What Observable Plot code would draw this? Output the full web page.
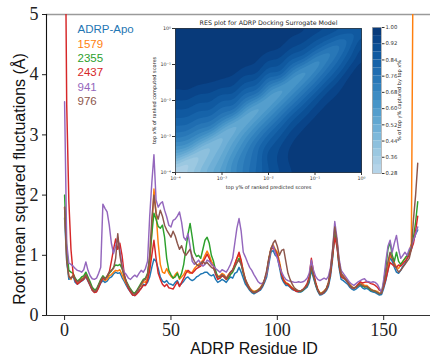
<!DOCTYPE html>
<html><head><meta charset="utf-8">
<script src="https://cdn.jsdelivr.net/npm/d3@7"></script>
<script src="https://cdn.jsdelivr.net/npm/@observablehq/plot@0.6"></script>
<style>
body{margin:0;background:#fff}
#wrap{position:relative;width:433px;height:356px;overflow:hidden}
#wrap svg{position:absolute;left:0;top:0}
svg.mainplot g[aria-label$="tick label"], svg.mainplot g[aria-label$="tick label"] text{font-family:"Liberation Serif","Times New Roman",serif !important}
</style></head><body><div id="wrap"></div>
<script>
// ---------------- data ----------------
const seriesNames = ["ADRP-Apo", "1579", "2355", "2437", "941", "976"];
const seriesColors = ["#1f77b4", "#ff7f0e", "#2ca02c", "#d62728", "#9467bd", "#8c564b"];
const residueStart = 0;

const apo = [1.62,0.9,0.6,0.62,0.65,0.55,0.52,0.55,0.57,0.6,
0.64,0.57,0.5,0.42,0.39,0.4,0.47,0.54,0.58,0.55,
0.57,0.62,0.64,0.69,0.72,0.7,0.71,0.63,0.57,0.5,
0.44,0.39,0.34,0.33,0.37,0.42,0.45,0.52,0.5,0.55,
0.64,0.8,0.94,0.9,0.78,0.64,0.57,0.55,0.58,0.53,
0.52,0.5,0.55,0.58,0.5,0.53,0.57,0.62,0.64,0.6,
0.58,0.6,0.64,0.66,0.69,0.7,0.72,0.72,0.68,0.66,
0.68,0.6,0.55,0.57,0.6,0.58,0.55,0.6,0.64,0.62,
0.7,0.72,0.8,0.72,0.62,0.52,0.47,0.42,0.38,0.36,
0.38,0.4,0.42,0.47,0.55,0.64,0.85,1.05,1.08,1.0,
0.97,0.8,0.62,0.55,0.5,0.5,0.47,0.43,0.42,0.4,
0.39,0.39,0.41,0.44,0.47,0.55,0.75,0.62,0.5,0.4,
0.34,0.35,0.37,0.41,0.48,0.65,0.95,1.36,1.2,0.8,
0.6,0.58,0.55,0.52,0.47,0.44,0.42,0.44,0.47,0.5,
0.46,0.44,0.45,0.43,0.4,0.39,0.38,0.36,0.34,0.35,
0.45,0.58,0.75,0.97,0.9,0.8,0.72,0.7,0.75,0.82,
0.86,0.95,1.05,1.1,1.25,1.35,1.42];

const s1579 = [1.8,1.0,0.65,0.6,0.68,0.6,0.55,0.58,0.62,0.63,
0.7,0.62,0.53,0.45,0.41,0.42,0.5,0.57,0.62,0.58,
0.6,0.66,0.68,0.72,0.75,0.74,0.76,0.68,0.6,0.53,
0.47,0.42,0.37,0.36,0.4,0.46,0.5,0.56,0.55,0.62,
0.8,1.4,2.1,1.7,1.2,0.85,0.72,0.7,0.78,0.7,
0.65,0.62,0.68,0.72,0.6,0.64,0.68,0.75,0.72,0.7,
0.72,0.78,0.82,0.85,0.88,0.92,1.0,1.07,1.0,0.9,
0.85,0.72,0.65,0.66,0.7,0.68,0.62,0.68,0.72,0.75,
0.85,0.95,1.02,0.9,0.75,0.6,0.52,0.46,0.42,0.4,
0.41,0.43,0.46,0.52,0.6,0.72,0.95,1.12,1.18,1.1,
1.05,0.9,0.72,0.6,0.55,0.53,0.5,0.46,0.44,0.42,
0.41,0.41,0.43,0.47,0.52,0.62,0.82,0.68,0.55,0.44,
0.38,0.38,0.41,0.45,0.55,0.75,1.05,1.4,1.25,0.9,
0.7,0.66,0.62,0.58,0.52,0.48,0.46,0.48,0.52,0.55,
0.52,0.5,0.5,0.47,0.44,0.42,0.41,0.4,0.37,0.38,
0.5,0.65,0.82,1.0,0.95,0.88,0.8,0.78,0.85,0.9,
0.95,1.0,1.05,1.2,7,7,7];

const s2355 = [2.0,1.1,0.75,0.72,0.7,0.62,0.57,0.6,0.64,0.66,
0.72,0.64,0.56,0.47,0.43,0.44,0.52,0.6,0.66,0.62,
0.64,0.7,0.74,0.8,0.84,0.83,0.85,0.78,0.66,0.57,
0.5,0.44,0.39,0.37,0.42,0.48,0.54,0.6,0.62,0.7,
0.95,1.35,1.7,1.6,1.48,1.45,1.5,1.3,0.95,0.75,
0.68,0.62,0.64,0.7,0.62,0.7,0.85,1.1,1.35,1.53,
1.3,1.05,0.98,1.0,0.95,1.1,1.25,1.3,1.2,1.0,
0.9,0.75,0.62,0.62,0.66,0.64,0.6,0.62,0.68,0.72,
0.8,0.88,0.95,0.85,0.7,0.58,0.5,0.44,0.4,0.38,
0.4,0.42,0.45,0.5,0.58,0.7,0.92,1.1,1.15,1.08,
1.0,0.85,0.68,0.58,0.53,0.52,0.48,0.45,0.43,0.41,
0.4,0.4,0.42,0.46,0.5,0.6,0.8,0.66,0.52,0.42,
0.36,0.37,0.39,0.44,0.52,0.72,1.0,1.35,1.2,0.85,
0.65,0.62,0.6,0.56,0.5,0.47,0.45,0.47,0.5,0.52,
0.49,0.47,0.48,0.45,0.42,0.41,0.4,0.38,0.36,0.38,
0.55,0.8,1.1,1.22,1.0,0.9,1.05,0.9,0.85,0.9,
0.95,1.0,1.05,1.15,1.3,1.55,1.89];

const s2437 = [8,3.5,1.9,1.1,0.7,0.58,0.52,0.55,0.58,0.6,
0.66,0.58,0.5,0.42,0.38,0.39,0.46,0.55,0.62,0.6,
0.65,0.72,0.9,1.1,1.27,1.1,1.2,1.0,0.7,0.55,
0.45,0.39,0.34,0.33,0.36,0.4,0.45,0.5,0.5,0.58,
0.75,1.0,1.25,0.95,0.7,0.6,0.52,0.48,0.52,0.46,
0.45,0.44,0.5,0.56,0.48,0.55,0.62,0.7,0.75,0.72,
0.7,0.74,0.78,0.8,0.82,0.88,0.95,1.02,0.95,0.85,
0.82,0.68,0.6,0.62,0.66,0.64,0.6,0.66,0.72,0.75,
0.85,0.95,1.05,0.92,0.72,0.58,0.5,0.44,0.4,0.38,
0.39,0.41,0.44,0.5,0.58,0.7,0.92,1.1,1.12,1.08,
1.0,0.85,0.68,0.58,0.53,0.52,0.48,0.45,0.42,0.4,
0.4,0.41,0.43,0.47,0.53,0.65,0.95,0.72,0.55,0.43,
0.36,0.36,0.39,0.43,0.52,0.7,1.0,1.3,1.15,0.85,
0.65,0.62,0.6,0.55,0.5,0.46,0.45,0.47,0.52,0.56,
0.54,0.55,0.56,0.55,0.53,0.52,0.5,0.47,0.42,0.4,
0.48,0.6,0.75,0.88,0.85,0.82,0.8,0.84,0.82,0.86,
0.9,0.95,1.0,1.1,1.2,1.4,1.65];

const s941 = [3.55,1.2,0.87,0.85,0.82,0.78,0.75,0.74,0.72,0.76,
0.89,0.75,0.66,0.61,0.6,0.62,0.7,0.8,1.85,1.78,
1.72,1.5,1.2,1.03,1.15,1.3,1.08,0.83,0.72,0.68,
0.62,0.6,0.64,0.67,0.64,0.7,0.75,0.72,0.78,0.9,
1.64,2.2,2.67,1.92,1.8,1.86,1.89,1.75,1.64,1.5,
1.47,1.58,1.6,1.65,1.72,1.55,1.3,1.25,1.36,1.15,
0.9,0.85,0.88,0.92,0.86,0.82,0.85,0.92,0.9,0.86,
0.82,0.78,0.75,0.72,0.76,0.74,0.72,0.78,0.85,0.95,
1.2,1.45,1.61,1.4,1.05,0.97,0.88,0.8,0.75,0.68,
0.62,0.56,0.53,0.53,0.58,0.7,0.9,1.1,1.16,1.05,
0.95,0.82,0.72,0.65,0.6,0.58,0.57,0.56,0.55,0.55,
0.56,0.55,0.56,0.58,0.62,0.7,0.92,0.75,0.65,0.6,
0.58,0.6,0.62,0.6,0.65,0.8,1.1,1.56,1.3,0.95,
0.75,0.7,0.65,0.6,0.55,0.52,0.5,0.53,0.56,0.58,
0.6,0.61,0.57,0.56,0.55,0.56,0.55,0.52,0.45,0.38,
0.6,0.9,1.15,1.25,1.05,1.2,1.33,1.1,0.95,1.0,
1.05,1.0,1.1,1.15,1.25,1.35,1.47];

const s976 = [1.8,0.9,0.65,0.62,0.66,0.6,0.56,0.58,0.6,0.62,
0.68,0.6,0.52,0.44,0.4,0.42,0.5,0.58,0.64,0.6,
0.66,0.72,0.75,0.78,0.95,1.36,1.0,0.8,0.66,0.56,
0.48,0.42,0.37,0.35,0.4,0.46,0.52,0.58,0.6,0.68,
1.0,1.6,2.0,1.7,1.6,1.75,1.65,1.5,1.42,1.36,
1.3,1.4,1.32,1.2,1.1,1.16,1.05,1.0,1.05,1.1,
0.98,0.9,0.85,0.82,0.86,0.9,0.86,0.88,0.84,0.8,
0.78,0.7,0.65,0.64,0.68,0.66,0.62,0.66,0.72,0.76,
0.82,0.88,0.92,0.85,0.72,0.6,0.52,0.45,0.4,0.38,
0.39,0.42,0.45,0.5,0.6,0.75,0.95,1.1,1.2,1.25,
1.15,1.0,1.08,1.1,0.9,0.7,0.6,0.52,0.46,0.43,
0.41,0.41,0.43,0.46,0.5,0.6,0.82,0.66,0.52,0.42,
0.36,0.37,0.4,0.44,0.54,0.75,1.1,1.47,1.25,0.9,
0.7,0.65,0.6,0.56,0.5,0.47,0.45,0.47,0.5,0.52,
0.5,0.48,0.48,0.46,0.43,0.41,0.4,0.38,0.36,0.37,
0.5,0.7,0.9,1.05,0.95,0.85,0.78,0.72,0.75,0.8,
0.85,0.9,0.95,1.1,1.6,2.0,2.53];

const seriesValues = [apo, s1579, s2355, s2437, s941, s976];
const xTicks = [0, 50, 100, 150];
const yTicks = [0, 1, 2, 3, 4, 5];
const xDomain = [-8.5, 172];
const yDomain = [0, 5];
const xLabel = "ADRP Residue ID";
const yLabel = "Root mean squared fluctuations (Å)";

// inset (RES plot), log10 coordinates: u = predicted top-y%, v = computed top-x%
const nodeU = [-4, -3.5, -3, -2.5, -2, -1.5, -1, -0.5, 0];
const nodeV = [0, -0.5, -1, -1.5, -2, -2.5, -3, -3.5, -4];
const nodeVals = [
  [1.0, 1.0, 1.0, 1.0, 1.0, 0.98, 0.95, 0.9, 0.86],
  [1.0, 1.0, 1.0, 1.0, 0.98, 0.93, 0.85, 0.73, 0.93],
  [1.0, 1.0, 1.0, 0.97, 0.9, 0.8, 0.63, 0.82, 0.98],
  [0.98, 0.97, 0.95, 0.88, 0.75, 0.58, 0.76, 0.93, 1.0],
  [0.92, 0.89, 0.84, 0.74, 0.54, 0.72, 0.9, 0.98, 1.0],
  [0.84, 0.8, 0.72, 0.5, 0.68, 0.87, 0.97, 1.0, 1.0],
  [0.74, 0.66, 0.45, 0.63, 0.82, 0.95, 1.0, 1.0, 1.0],
  [0.56, 0.38, 0.52, 0.72, 0.9, 0.98, 1.0, 1.0, 1.0],
  [0.3, 0.44, 0.58, 0.74, 0.88, 0.96, 1.0, 1.0, 1.0]
];
const cellU = [-3.75, -3.25, -2.75, -2.25, -1.75, -1.25, -0.75, -0.25];
const cellV = [-0.25, -0.75, -1.25, -1.75, -2.25, -2.75, -3.25, -3.75];
const cellVals = [
  [1.0, 1.0, 1.0, 1.0, 0.99, 0.95, 0.87, 0.8],
  [1.0, 1.0, 1.0, 0.98, 0.94, 0.85, 0.68, 0.87],
  [1.0, 0.99, 0.97, 0.93, 0.84, 0.6, 0.79, 0.96],
  [0.96, 0.93, 0.9, 0.8, 0.56, 0.74, 0.92, 1.0],
  [0.88, 0.85, 0.78, 0.52, 0.7, 0.88, 0.98, 1.0],
  [0.79, 0.72, 0.48, 0.66, 0.84, 0.96, 1.0, 1.0],
  [0.64, 0.42, 0.58, 0.78, 0.92, 0.99, 1.0, 1.0],
  [0.33, 0.48, 0.66, 0.8, 0.93, 0.99, 1.0, 1.0]
];
const levels = [0.28,0.32,0.36,0.40,0.44,0.48,0.52,0.56,0.60,0.64,0.68,0.72,0.76,0.80,0.84,0.88,0.92,0.96];
const levelStep = 0.04;
const cbTicks = [0.28,0.36,0.44,0.52,0.60,0.68,0.76,0.84,0.92,1.00];
const decadeTicks = [-4, -3, -2, -1, 0];
const decadeLabels = ["10⁻⁴", "10⁻³", "10⁻²", "10⁻¹", "10⁰"];
const insetTitle = "RES plot for ADRP Docking Surrogate Model";
const insetXLabel = "top y% of ranked predicted scores";
const insetYLabel = "top x% of ranked computed scores";
const cbLabel = "% of top y% captured by top x%";

// ---------------- build ----------------
const rows = [];
seriesValues.forEach((vals, k) => vals.forEach((v, i) => rows.push({residue: residueStart + i, rmsf: v, name: seriesNames[k]})));

const sans = "Liberation Sans, Arial, sans-serif";
const serif = "'Liberation Serif', 'Times New Roman', serif";

const main = Plot.plot({
  className: "mainplot",
  width: 433, height: 356,
  marginLeft: 46, marginRight: 3, marginTop: 14, marginBottom: 41,
  x: {domain: xDomain},
  y: {domain: yDomain},
  style: {background: "transparent", fontFamily: serif, fontSize: "17px", color: "#222"},
  marks: [
    Plot.ruleY([yDomain[1]], {stroke: "#9a9a9a", strokeWidth: 1.6}),
    ...seriesNames.map((n, k) => Plot.line(rows.filter(d => d.name === n), {
      x: "residue", y: "rmsf", stroke: seriesColors[k], strokeWidth: 1.45, clip: true
    })),
    Plot.ruleY([yDomain[0]], {stroke: "#333", strokeWidth: 1.1}),
    Plot.ruleX([xDomain[0]], {stroke: "#111", strokeWidth: 1.1}),
    Plot.axisY({ticks: yTicks, tickFormat: d => String(d), tickSize: 4, tickPadding: 4, fontSize: 18, fontFamily: serif, label: null}),
    Plot.axisX({ticks: xTicks, tickFormat: d => String(d), tickSize: 5, tickPadding: 3, fontSize: 18, fontFamily: serif, label: null}),
    Plot.text([yLabel], {frameAnchor: "left", textAnchor: "middle", lineAnchor: "middle", rotate: -90, dx: -26.5, dy: 14, fontSize: 16, fontFamily: sans, fill: "#111"}),
    Plot.text([xLabel], {frameAnchor: "bottom", textAnchor: "middle", lineAnchor: "middle", dx: 15.5, dy: 33, fontSize: 16, fontFamily: sans, fill: "#111"}),
    ...seriesNames.map((n, k) => Plot.text([n], {
      frameAnchor: "top-left", dx: 31, dy: 15 + k * 14.35, textAnchor: "start", lineAnchor: "middle",
      fill: seriesColors[k], fontSize: 11.5, fontFamily: sans
    }))
  ]
});

const gridPts = [];
nodeV.forEach((v, r) => nodeU.forEach((u, c) => gridPts.push({u, v, val: nodeVals[r][c]})));
cellV.forEach((v, r) => cellU.forEach((u, c) => gridPts.push({u, v, val: cellVals[r][c]})));

const colorOpts = {type: "linear", domain: [0.28, 1.0], interpolate: t => d3.interpolateBlues(0.3 + 0.7 * t)};
const dv = "DejaVu Sans, sans-serif";
const decFmt = d => decadeLabels[decadeTicks.indexOf(d)];

const inset = Plot.plot({
  width: 433, height: 356,
  marginLeft: 175, marginRight: 72, marginTop: 28, marginBottom: 184,
  x: {domain: [-4, 0]}, y: {domain: [-4, 0]},
  color: colorOpts,
  style: {background: "transparent", fontFamily: dv, fontSize: "5px", color: "#333"},
  marks: [
    Plot.contour(gridPts, {x: "u", y: "v", fill: "val", thresholds: levels, interpolate: "barycentric", blur: 3, x1: -4, x2: 0, y1: -4, y2: 0, pixelSize: 1}),
    Plot.frame({stroke: "#333", strokeWidth: 0.7}),
    Plot.axisX({ticks: decadeTicks, tickFormat: decFmt, tickSize: 3, tickPadding: 1.5, fontSize: 4.8, label: null}),
    Plot.axisY({ticks: decadeTicks, tickFormat: decFmt, tickSize: 3, tickPadding: 1.5, fontSize: 4.8, label: null}),
    Plot.text([insetTitle], {frameAnchor: "top", textAnchor: "middle", lineAnchor: "middle", dy: -6, fontSize: 6.3, fill: "#222"}),
    Plot.text([insetXLabel], {frameAnchor: "bottom", textAnchor: "middle", lineAnchor: "middle", dy: 15, fontSize: 5, fill: "#222"}),
    Plot.text([insetYLabel], {frameAnchor: "left", textAnchor: "middle", lineAnchor: "middle", rotate: -90, dx: -21, fontSize: 5, fill: "#222"})
  ]
});

const cbar = Plot.plot({
  width: 433, height: 356,
  marginLeft: 372, marginRight: 52, marginTop: 27, marginBottom: 183,
  x: {domain: [0, 1], axis: null},
  y: {domain: [0.28, 1.0], axis: null},
  color: colorOpts,
  style: {background: "transparent", fontFamily: dv, fontSize: "5px", color: "#333"},
  marks: [
    Plot.rect(levels, {x1: 0, x2: 1, y1: d => d, y2: d => d + levelStep, fill: d => d}),
    Plot.frame({stroke: "#aaa", strokeWidth: 0.8}),
    Plot.axisY({anchor: "right", ticks: cbTicks, tickFormat: d3.format(".2f"), tickSize: 2.5, tickPadding: 1.5, fontSize: 5.3, label: null}),
    Plot.text([cbLabel], {frameAnchor: "right", textAnchor: "middle", lineAnchor: "middle", rotate: -90, dx: 18, fontSize: 5, fill: "#222"})
  ]
});

const wrap = document.getElementById("wrap");
wrap.append(main, inset, cbar);
</script>
</body></html>
